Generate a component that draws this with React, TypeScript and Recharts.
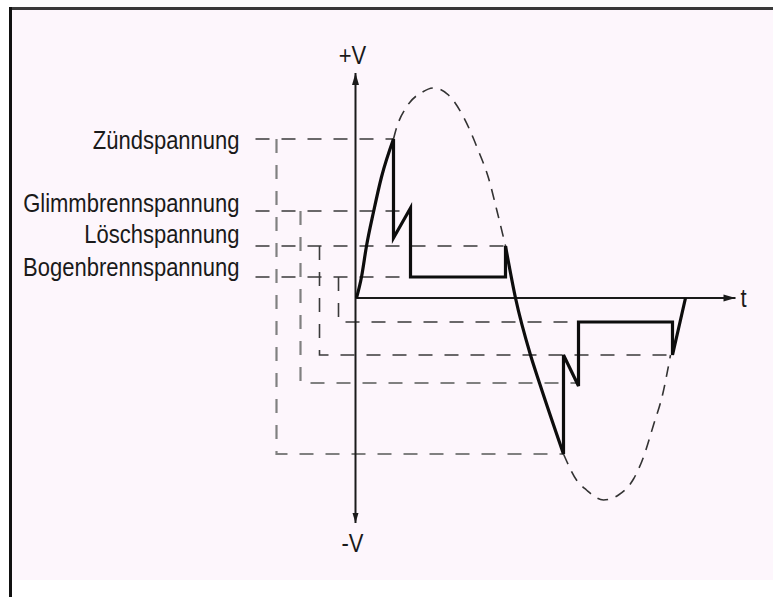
import React from 'react'
import { ComposedChart, Line, XAxis, YAxis } from 'recharts'

// levels in V above / below the zero line
const levelNames = ['Zündspannung', 'Glimmbrennspannung', 'Löschspannung', 'Bogenbrennspannung']
const posLevels = [159, 87, 52, 21]
const negLevels = [-156, -85, -57, -24]

// where each dashed guide runs along t
const guideStartT = -100
const dropT = [-79, -55, -36, -17]
const posGuideEndT = [38, 55, 150, 55]
const negGuideEndT = [208, 223, 317, 223]

// solid voltage trace
const riseT = [1, 6, 11, 18, 26, 38]
const riseV = [0, 21, 52, 86, 121, 159]
const posSawT = [38, 38, 55, 55, 150, 150]
const posSawV = [159, 60, 90, 21, 21, 52]
const fallT = [150, 160, 175, 184, 208]
const fallV = [52, 0, -57, -85, -156]
const negSawT = [208, 208, 223, 223, 317, 317, 330]
const negSawV = [-156, -57, -88, -24, -24, -57, 0]

// dashed supply sine (visible parts only)
const sinePosT = [38, 41, 51, 67, 78, 93, 108, 123, 133, 141, 150]
const sinePosV = [159, 170, 191, 206, 210, 203, 181, 147, 120, 89, 52]
const sineNegT = [208, 221, 231, 248, 263, 278, 288, 298, 307, 315]
const sineNegV = [-156, -182, -192, -202, -197, -181, -159, -127, -97, -57]

// axes
const axisLabels = { vPos: '+V', vNeg: '-V', t: 't' }
const vAxisV = [-225, 225]
const tAxisT = [0, 380]

const zip = (ts: number[], vs: number[]) => ts.map((t, i) => ({ t, v: vs[i] }))

const FONT = "'Liberation Sans', Arial, Helvetica, sans-serif"
const LABEL_DY = [10, 1, -3, -1]

const Txt = ({ x, y, anchor = 'middle', children }: any) => (
  <text
    transform={`translate(${x} ${y}) scale(0.88 1)`}
    textAnchor={anchor}
    fontFamily={FONT}
    fontSize={25}
    fill="#1a1a1a"
  >
    {children}
  </text>
)

const common = {
  dataKey: 'v',
  dot: false,
  activeDot: false,
  isAnimationActive: false,
  legendType: 'none' as const,
}

export default function App() {
  const guideDark = '#3a3a3a'
  const guideGray = '#808080'

  return (
    <>
      <style>{`body{margin:0;overflow:hidden;background:#fff}`}</style>
      <div
        style={{
          position: 'absolute',
          left: 9,
          top: 7,
          width: 764,
          height: 590,
          background: 'linear-gradient(to bottom, #fdf6fc 0, #fdf6fc 573px, #ffffff 573px)',
          boxShadow: 'inset 3px 0 0 #111, inset 0 3px 0 #3a3a3a',
        }}
      >
        <ComposedChart width={764} height={590} margin={{ top: 0, right: 0, bottom: 0, left: 0 }}>
          <XAxis type="number" dataKey="t" domain={[-346.5, 417.5]} hide allowDataOverflow />
          <YAxis type="number" dataKey="v" domain={[-299, 291]} hide allowDataOverflow />

          {levelNames.map((name, i) => (
            <Line
              key={`pg-${i}`}
              {...common}
              data={zip([guideStartT, posGuideEndT[i]], [posLevels[i], posLevels[i]])}
              type="linear"
              stroke={guideDark}
              strokeWidth={1.6}
              strokeDasharray="14 12"
              dot={(p: any) =>
                p.index === 0 ? (
                  <g key={`pl-${i}`}>
                    <Txt x={p.cx - 16} y={p.cy + LABEL_DY[i]} anchor="end">{name}</Txt>
                  </g>
                ) : (
                  <g key={`pl-${i}-${p.index}`} />
                )
              }
            />
          ))}

          {levelNames.map((_, i) => (
            <Line
              key={`ng-${i}`}
              {...common}
              data={zip([dropT[i], dropT[i], negGuideEndT[i]], [posLevels[i], negLevels[i], negLevels[i]])}
              type="linear"
              stroke={i < 2 ? guideGray : guideDark}
              strokeWidth={i < 2 ? 2.2 : 1.6}
              strokeDasharray="14 12"
            />
          ))}

          <Line {...common} data={zip(sinePosT, sinePosV)} type="monotone" stroke="#333" strokeWidth={1.6} strokeDasharray="11 8" />
          <Line {...common} data={zip(sineNegT, sineNegV)} type="monotone" stroke="#333" strokeWidth={1.6} strokeDasharray="11 8" />

          <Line
            {...common}
            data={zip([0, 0], vAxisV)}
            type="linear"
            stroke="#1a1a1a"
            strokeWidth={2}
            dot={(p: any) =>
              p.index === 1 ? (
                <g key="v-top">
                  <polygon points={`${p.cx},${p.cy} ${p.cx - 3.5},${p.cy + 12} ${p.cx + 3.5},${p.cy + 12}`} fill="#1a1a1a" />
                  <Txt x={p.cx - 3} y={p.cy - 9}>{axisLabels.vPos}</Txt>
                </g>
              ) : (
                <g key="v-bot">
                  <polygon points={`${p.cx},${p.cy} ${p.cx - 3},${p.cy - 10} ${p.cx + 3},${p.cy - 10}`} fill="#1a1a1a" />
                  <Txt x={p.cx - 3} y={p.cy + 29}>{axisLabels.vNeg}</Txt>
                </g>
              )
            }
          />
          <Line
            {...common}
            data={zip(tAxisT, [0, 0])}
            type="linear"
            stroke="#1a1a1a"
            strokeWidth={2}
            dot={(p: any) =>
              p.index === 1 ? (
                <g key="t-end">
                  <polygon points={`${p.cx},${p.cy} ${p.cx - 12},${p.cy - 3.5} ${p.cx - 12},${p.cy + 3.5}`} fill="#1a1a1a" />
                  <Txt x={p.cx + 8} y={p.cy + 9}>{axisLabels.t}</Txt>
                </g>
              ) : (
                <g key="t-start" />
              )
            }
          />

          <Line {...common} data={zip(riseT, riseV)} type="monotone" stroke="#0d0d0d" strokeWidth={3.2} />
          <Line {...common} data={zip(posSawT, posSawV)} type="linear" stroke="#0d0d0d" strokeWidth={3.2} />
          <Line {...common} data={zip(fallT, fallV)} type="monotone" stroke="#0d0d0d" strokeWidth={3.2} />
          <Line {...common} data={zip(negSawT, negSawV)} type="linear" stroke="#0d0d0d" strokeWidth={3.2} />
        </ComposedChart>
      </div>
    </>
  )
}
